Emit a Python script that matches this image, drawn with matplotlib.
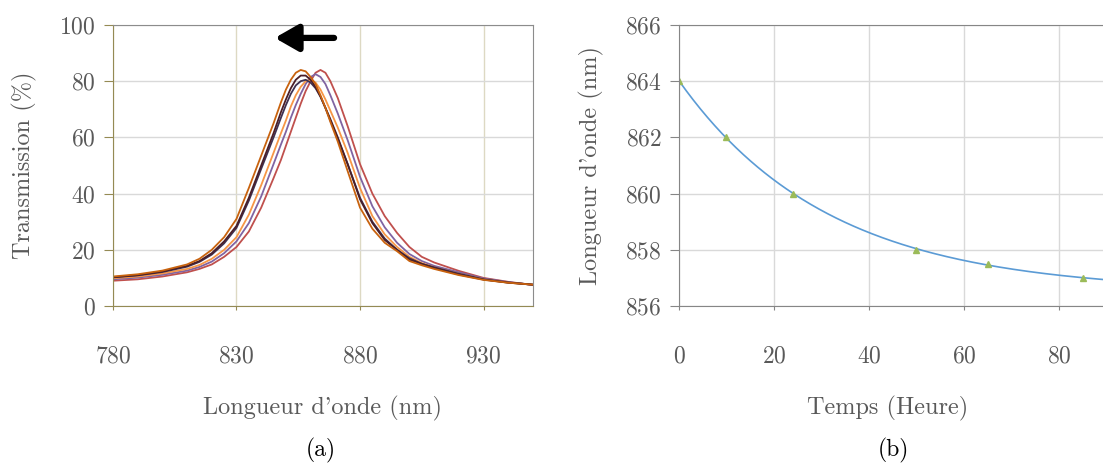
import numpy as np
import matplotlib
matplotlib.use("Agg")
import matplotlib.pyplot as plt

plt.rcParams['font.family'] = ['cmr10', 'DejaVu Serif']
plt.rcParams['axes.formatter.use_mathtext'] = True

# (a) transmission spectra
wl = [780, 790, 800, 810, 815, 820, 825, 830, 835, 840, 845, 848, 850, 852, 854, 856, 858,
      860, 862, 864, 866, 868, 871, 875, 880, 885, 890, 895, 900, 905, 910, 920, 930, 940, 950]

spec_orange_dark = [10.5, 11.3, 12.6, 14.8, 16.8, 20.0, 24.5, 31.0, 42.0, 53.5, 65.0, 72.5, 77.0, 80.5, 83.0, 84.0, 83.5,
                    81.5, 79.0, 75.0, 70.5, 65.5, 58.5, 48.0, 35.0, 27.5, 22.5, 19.5, 16.0, 14.5, 13.2, 11.0, 9.3, 8.3, 7.6]
spec_maroon = [10.3, 11.0, 12.3, 14.3, 16.0, 18.8, 23.0, 28.5, 38.5, 50.0, 61.5, 69.0, 73.5, 77.5, 80.5, 82.0, 82.0,
               80.5, 78.0, 74.5, 70.5, 66.5, 60.0, 50.5, 38.0, 29.5, 23.5, 20.0, 16.5, 15.0, 13.5, 11.2, 9.4, 8.3, 7.6]
spec_dark_purple = [10.2, 10.9, 12.1, 14.0, 15.7, 18.3, 22.3, 27.8, 37.5, 48.8, 60.0, 67.0, 71.5, 75.5, 78.5, 80.0, 80.5,
                    79.5, 77.5, 74.5, 70.5, 66.0, 59.5, 50.5, 38.5, 30.0, 24.0, 20.0, 17.0, 15.0, 13.8, 11.5, 9.5, 8.4, 7.6]
spec_orange = [9.9, 10.5, 11.6, 13.2, 14.6, 16.8, 20.0, 24.5, 32.5, 43.0, 54.5, 61.5, 66.0, 71.0, 75.0, 78.0, 80.0,
               80.5, 79.5, 77.0, 73.5, 69.5, 63.5, 54.5, 42.0, 32.0, 25.5, 21.0, 17.5, 15.3, 13.8, 11.5, 9.5, 8.3, 7.6]
spec_purple = [9.5, 10.1, 11.1, 12.6, 13.9, 15.8, 18.8, 23.0, 29.5, 39.0, 50.5, 57.5, 62.0, 67.0, 71.5, 75.5, 79.0,
               81.5, 82.5, 81.5, 79.0, 75.0, 68.5, 59.0, 46.0, 35.5, 28.0, 22.5, 18.5, 16.0, 14.3, 12.0, 9.8, 8.5, 7.5]
spec_red = [9.0, 9.5, 10.5, 12.0, 13.2, 14.8, 17.5, 21.0, 26.5, 35.0, 45.5, 52.0, 57.0, 62.0, 67.0, 72.0, 76.5,
            80.0, 83.0, 84.0, 83.0, 80.0, 74.0, 64.0, 50.5, 40.0, 32.0, 26.0, 21.0, 17.5, 15.5, 12.5, 10.0, 8.6, 7.5]

# (b) resonance wavelength vs time
temps = [0, 10, 24, 50, 65, 85]
longueur = [864.0, 862.0, 860.0, 858.0, 857.5, 857.0]

grey_txt = '#595959'
fs = 17

fig = plt.figure(figsize=(11.03, 4.66), dpi=100)
ax1 = fig.add_axes([0.1024, 0.3433, 0.3808, 0.6031])
ax2 = fig.add_axes([0.6156, 0.3433, 0.3844, 0.6031])

# ---- panel (a)
curves = [(spec_red, '#C0504D'), (spec_purple, '#8064A2'), (spec_orange, '#F79646'),
          (spec_dark_purple, '#3F3151'), (spec_maroon, '#4A1E28'), (spec_orange_dark, '#C8620E')]
for vals, col in curves:
    ax1.plot(wl, vals, color=col, lw=1.3)

ax1.set_xlim(780, 950)
ax1.set_ylim(0, 100)
ax1.set_xticks([780, 830, 880, 930])
ax1.set_yticks([0, 20, 40, 60, 80, 100])
ax1.set_axisbelow(True)
ax1.grid(axis='y', color='#D9D9D9', lw=1)
ax1.grid(axis='x', color='#DDD9C3', lw=1)
for s in ['left', 'bottom']:
    ax1.spines[s].set_color('#948A54')
for s in ['top', 'right']:
    ax1.spines[s].set_color('#8C8C8C')
ax1.tick_params(axis='y', length=6.5, color='#948A54', labelcolor=grey_txt, labelsize=fs, pad=6)
ax1.tick_params(axis='x', length=3, color='#948A54', labelcolor=grey_txt, labelsize=fs, pad=25)
ax1.set_xlabel("Longueur d'onde (nm)", fontsize=fs + 0.5, color=grey_txt)
ax1.set_ylabel("Transmission (%)", fontsize=fs + 0.5, color=grey_txt)
ax1.xaxis.set_label_coords(0.5, -0.32)
ax1.yaxis.set_label_coords(-0.18, 0.5)

ax1.annotate('', xy=(845.5, 95.4), xytext=(869.5, 95.4),
             arrowprops=dict(arrowstyle='-|>,head_length=0.7,head_width=0.4',
                             mutation_scale=20, lw=4.5, color='black',
                             shrinkA=0, shrinkB=0))

# ---- panel (b)
# exponential trendline fitted on the measured points
t = np.array(temps, dtype=float)
y = np.array(longueur)
best = None
for c in np.linspace(850, 856.95, 700):
    p = np.polyfit(t, np.log(y - c), 1)
    res = np.sum((c + np.exp(np.polyval(p, t)) - y) ** 2)
    if best is None or res < best[0]:
        best = (res, c, p)
_, c_fit, p_fit = best
t_line = np.linspace(0, 90, 300)
ax2.plot(t_line, c_fit + np.exp(np.polyval(p_fit, t_line)), color='#5B9BD5', lw=1.2)
ax2.plot(temps, longueur, '^', color='#9BBB59', markersize=4.5, ls='none')

ax2.set_xlim(0, 89.3)
ax2.set_ylim(856, 866)
ax2.set_xticks([0, 20, 40, 60, 80])
ax2.set_yticks([856, 858, 860, 862, 864, 866])
ax2.set_axisbelow(True)
ax2.grid(color='#D9D9D9', lw=1)
for s in ['left', 'bottom', 'top']:
    ax2.spines[s].set_color('#868686')
ax2.spines['right'].set_visible(False)
ax2.tick_params(axis='y', length=6.5, color='#868686', labelcolor=grey_txt, labelsize=fs, pad=6)
ax2.tick_params(axis='x', length=3, color='#868686', labelcolor=grey_txt, labelsize=fs, pad=25)
ax2.set_xlabel("Temps (Heure)", fontsize=fs + 0.5, color=grey_txt)
ax2.set_ylabel("Longueur d'onde (nm)", fontsize=fs + 0.5, color=grey_txt)
ax2.xaxis.set_label_coords(0.493, -0.32)
ax2.yaxis.set_label_coords(-0.176, 0.5)

fig.text(321 / 1103, 1 - 450 / 466, '(a)', fontsize=fs, ha='center', va='center')
fig.text(893 / 1103, 1 - 450 / 466, '(b)', fontsize=fs, ha='center', va='center')

fig.savefig('out.png', dpi=100)
